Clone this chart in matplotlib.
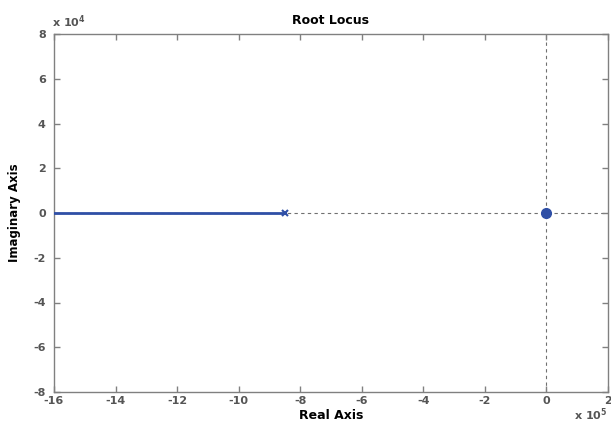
import matplotlib
matplotlib.use('Agg')
import matplotlib.pyplot as plt
from matplotlib.ticker import FuncFormatter

# Datos del lugar de las raices
locus_real = [-1.6e6, -8.5e5]
locus_imag = [0.0, 0.0]
pole_real = [-8.5e5]
pole_imag = [0.0]
zero_real = [0.0]
zero_imag = [0.0]

x_ticks = [-16e5, -14e5, -12e5, -10e5, -8e5, -6e5, -4e5, -2e5, 0, 2e5]
y_ticks = [-8e4, -6e4, -4e4, -2e4, 0, 2e4, 4e4, 6e4, 8e4]

plt.rcParams['font.family'] = ['DejaVu Sans']
plt.rcParams['font.weight'] = 'bold'

fig = plt.figure(figsize=(6.11, 4.25), dpi=100)
ax = fig.add_axes([54 / 611, 33 / 425, 554 / 611, 358 / 425])

blue = '#2f4fa6'
gray = '#808080'
txt_gray = '#555555'

# ejes punteados
ax.axhline(0, color='#707070', linestyle=(0, (3, 3)), linewidth=0.8, zorder=1)
ax.axvline(0, color='#707070', linestyle=(0, (3, 3)), linewidth=0.8, zorder=1)

ax.plot(locus_real, locus_imag, color=blue, linewidth=2, zorder=3)
ax.plot(pole_real, pole_imag, marker='x', color=blue, markersize=5,
        markeredgewidth=1.5, linestyle='None', zorder=4)
ax.plot(zero_real, zero_imag, marker='o', color=blue, markersize=7,
        linestyle='None', zorder=4)

ax.set_xlim(-16e5, 2e5)
ax.set_ylim(-8e4, 8e4)
ax.set_xticks(x_ticks)
ax.set_yticks(y_ticks)
ax.xaxis.set_major_formatter(FuncFormatter(lambda v, p: f"{v / 1e5:g}"))
ax.yaxis.set_major_formatter(FuncFormatter(lambda v, p: f"{v / 1e4:g}"))

ax.tick_params(direction='in', length=4, width=1, color=gray, labelcolor=txt_gray,
               labelsize=8, top=True, right=True)
ax.tick_params(axis='x', pad=3)
ax.tick_params(axis='y', pad=6)
for s in ax.spines.values():
    s.set_color(gray)
    s.set_linewidth(1)

ax.set_title('Root Locus', fontsize=9, fontweight='bold', pad=7)
ax.set_xlabel('Real Axis', fontsize=9, fontweight='bold', labelpad=2)
ax.set_ylabel('Imaginary Axis', fontsize=8.5, fontweight='bold', labelpad=9)

fig.text(52 / 611, 1 - 22 / 425, 'x 10$^{4}$', fontsize=8, color=txt_gray,
         fontweight='bold', va='center', ha='left')
fig.text(608 / 611, 1 - 415 / 425, 'x 10$^{5}$', fontsize=8, color=txt_gray,
         fontweight='bold', va='center', ha='right')

fig.savefig('out.png', dpi=100)
